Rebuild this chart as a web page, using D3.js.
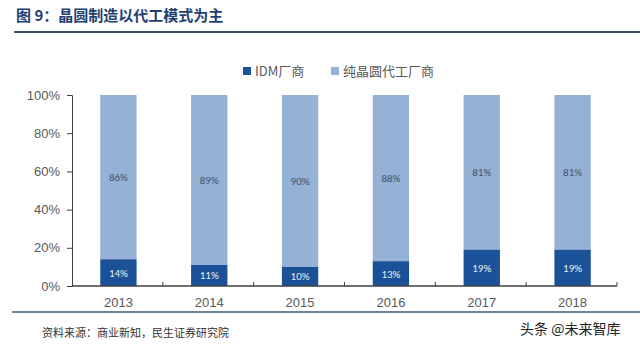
<!DOCTYPE html>
<html>
<head>
<meta charset="utf-8">
<script src="https://cdn.jsdelivr.net/npm/d3@7"></script>
<style>
body { margin: 0; background: #fff; }
svg { display: block; font-family: "Noto Sans CJK SC", "Noto Sans", sans-serif; }
</style>
</head>
<body>
<svg width="640" height="352"></svg>
<script>
var years = ['2013', '2014', '2015', '2016', '2017', '2018'];
var idm = [14, 11, 10, 13, 19, 19];
var foundry = [86, 89, 90, 88, 81, 81];
var yTicks = [0, 20, 40, 60, 80, 100];
var seriesNames = ['IDM厂商', '纯晶圆代工厂商'];

var darkBlue = '#1b5196';
var lightBlue = '#95b1d6';

var svg = d3.select('svg');

// title + rules
svg.append('text')
    .attr('x', 16).attr('y', 21)
    .attr('font-size', 15).attr('font-weight', 'bold')
    .attr('fill', '#1f3f73')
    .attr('font-family', '"Noto Sans CJK SC", serif')
    .text('图 9：晶圆制造以代工模式为主');
svg.append('line')
    .attr('x1', 14).attr('x2', 640).attr('y1', 32).attr('y2', 32)
    .attr('stroke', '#3e4f63').attr('stroke-width', 2);
svg.append('line')
    .attr('x1', 12).attr('x2', 640).attr('y1', 312).attr('y2', 312)
    .attr('stroke', '#3e5a78').attr('stroke-width', 1.5);

var scaleX = d3.scaleBand().domain(years).range([72, 617]).paddingInner(0.6).paddingOuter(0.3);
var scaleY = d3.scaleLinear().domain([0, 100]).range([286, 95]);

// bars
var g = svg.append('g');
g.selectAll('rect.top')
    .data(years)
    .enter()
    .append('rect')
    .attr('class', 'top')
    .attr('x', function (d) { return scaleX(d) + 1; })
    .attr('width', scaleX.bandwidth())
    .attr('y', function (d, i) { return scaleY(Math.min(100, idm[i] + foundry[i])); })
    .attr('height', function (d, i) { return scaleY(idm[i]) - scaleY(Math.min(100, idm[i] + foundry[i])); })
    .attr('fill', lightBlue);

g.selectAll('rect.bottom')
    .data(years)
    .enter()
    .append('rect')
    .attr('class', 'bottom')
    .attr('x', function (d) { return scaleX(d) + 1; })
    .attr('width', scaleX.bandwidth())
    .attr('y', function (d, i) { return scaleY(idm[i]); })
    .attr('height', function (d, i) { return scaleY(0) - scaleY(idm[i]); })
    .attr('fill', darkBlue);

// labels
g.selectAll('text.lt')
    .data(years)
    .enter()
    .append('text')
    .attr('x', function (d) { return scaleX(d) + 1 + scaleX.bandwidth() / 2; })
    .attr('y', function (d, i) { return scaleY((idm[i] + 100) / 2) + 4; })
    .attr('text-anchor', 'middle')
    .attr('font-size', 11)
    .attr('fill', '#44546a')
    .attr('font-family', 'Calibri, "Liberation Sans", sans-serif')
    .text(function (d, i) { return foundry[i] + '%'; });

g.selectAll('text.lb')
    .data(years)
    .enter()
    .append('text')
    .attr('x', function (d) { return scaleX(d) + 1 + scaleX.bandwidth() / 2; })
    .attr('y', function (d, i) { return scaleY(idm[i] / 2) + 4; })
    .attr('text-anchor', 'middle')
    .attr('font-size', 11)
    .attr('fill', '#e8eef7')
    .attr('font-family', 'Calibri, "Liberation Sans", sans-serif')
    .text(function (d, i) { return idm[i] + '%'; });

// y axis
var yAxis = svg.append('g')
    .attr('transform', 'translate(72,0)')
    .call(d3.axisLeft(scaleY).tickValues(yTicks).tickSize(5).tickFormat(function (d) { return d + '%'; }));
yAxis.select('.domain').attr('stroke', '#404040');
yAxis.selectAll('.tick line').attr('stroke', '#404040');
yAxis.selectAll('.tick text')
    .attr('x', -12)
    .attr('font-size', 13)
    .attr('fill', '#595959')
    .attr('font-family', '"Liberation Sans", sans-serif');

// x axis: line + ticks at band boundaries
var xg = svg.append('g');
xg.append('line')
    .attr('x1', 72).attr('x2', 617).attr('y1', 286).attr('y2', 286)
    .attr('stroke', '#404040').attr('stroke-width', 1.5);
var step = scaleX.step();
xg.selectAll('line.tk')
    .data(years)
    .enter()
    .append('line')
    .attr('class', 'tk')
    .attr('x1', function (d) { return scaleX(d) + scaleX.bandwidth() / 2 + step / 2; })
    .attr('x2', function (d) { return scaleX(d) + scaleX.bandwidth() / 2 + step / 2; })
    .attr('y1', 286).attr('y2', 282)
    .attr('stroke', '#404040');
xg.selectAll('text')
    .data(years)
    .enter()
    .append('text')
    .attr('x', function (d) { return scaleX(d) + 1 + scaleX.bandwidth() / 2; })
    .attr('y', 307)
    .attr('text-anchor', 'middle')
    .attr('font-size', 13)
    .attr('fill', '#595959')
    .attr('font-family', '"Liberation Sans", sans-serif')
    .text(function (d) { return d; });

// legend
var legend = svg.append('g');
legend.append('rect').attr('x', 243).attr('y', 67).attr('width', 8).attr('height', 8).attr('fill', darkBlue);
legend.append('text').attr('x', 255).attr('y', 76).attr('font-size', 13).attr('fill', '#595959').text(seriesNames[0]);
legend.append('rect').attr('x', 331).attr('y', 67).attr('width', 8).attr('height', 8).attr('fill', lightBlue);
legend.append('text').attr('x', 343).attr('y', 76).attr('font-size', 13).attr('fill', '#595959').text(seriesNames[1]);

// source + watermark
svg.append('text')
    .attr('x', 42).attr('y', 337)
    .attr('font-size', 11)
    .attr('fill', '#333')
    .attr('font-family', '"Noto Sans CJK SC", serif')
    .text('资料来源：商业新知，民生证券研究院');
svg.append('text')
    .attr('x', 520).attr('y', 334)
    .attr('font-size', 14)
    .attr('fill', '#222')
    .text('头条 @未来智库');
</script>
</body>
</html>
